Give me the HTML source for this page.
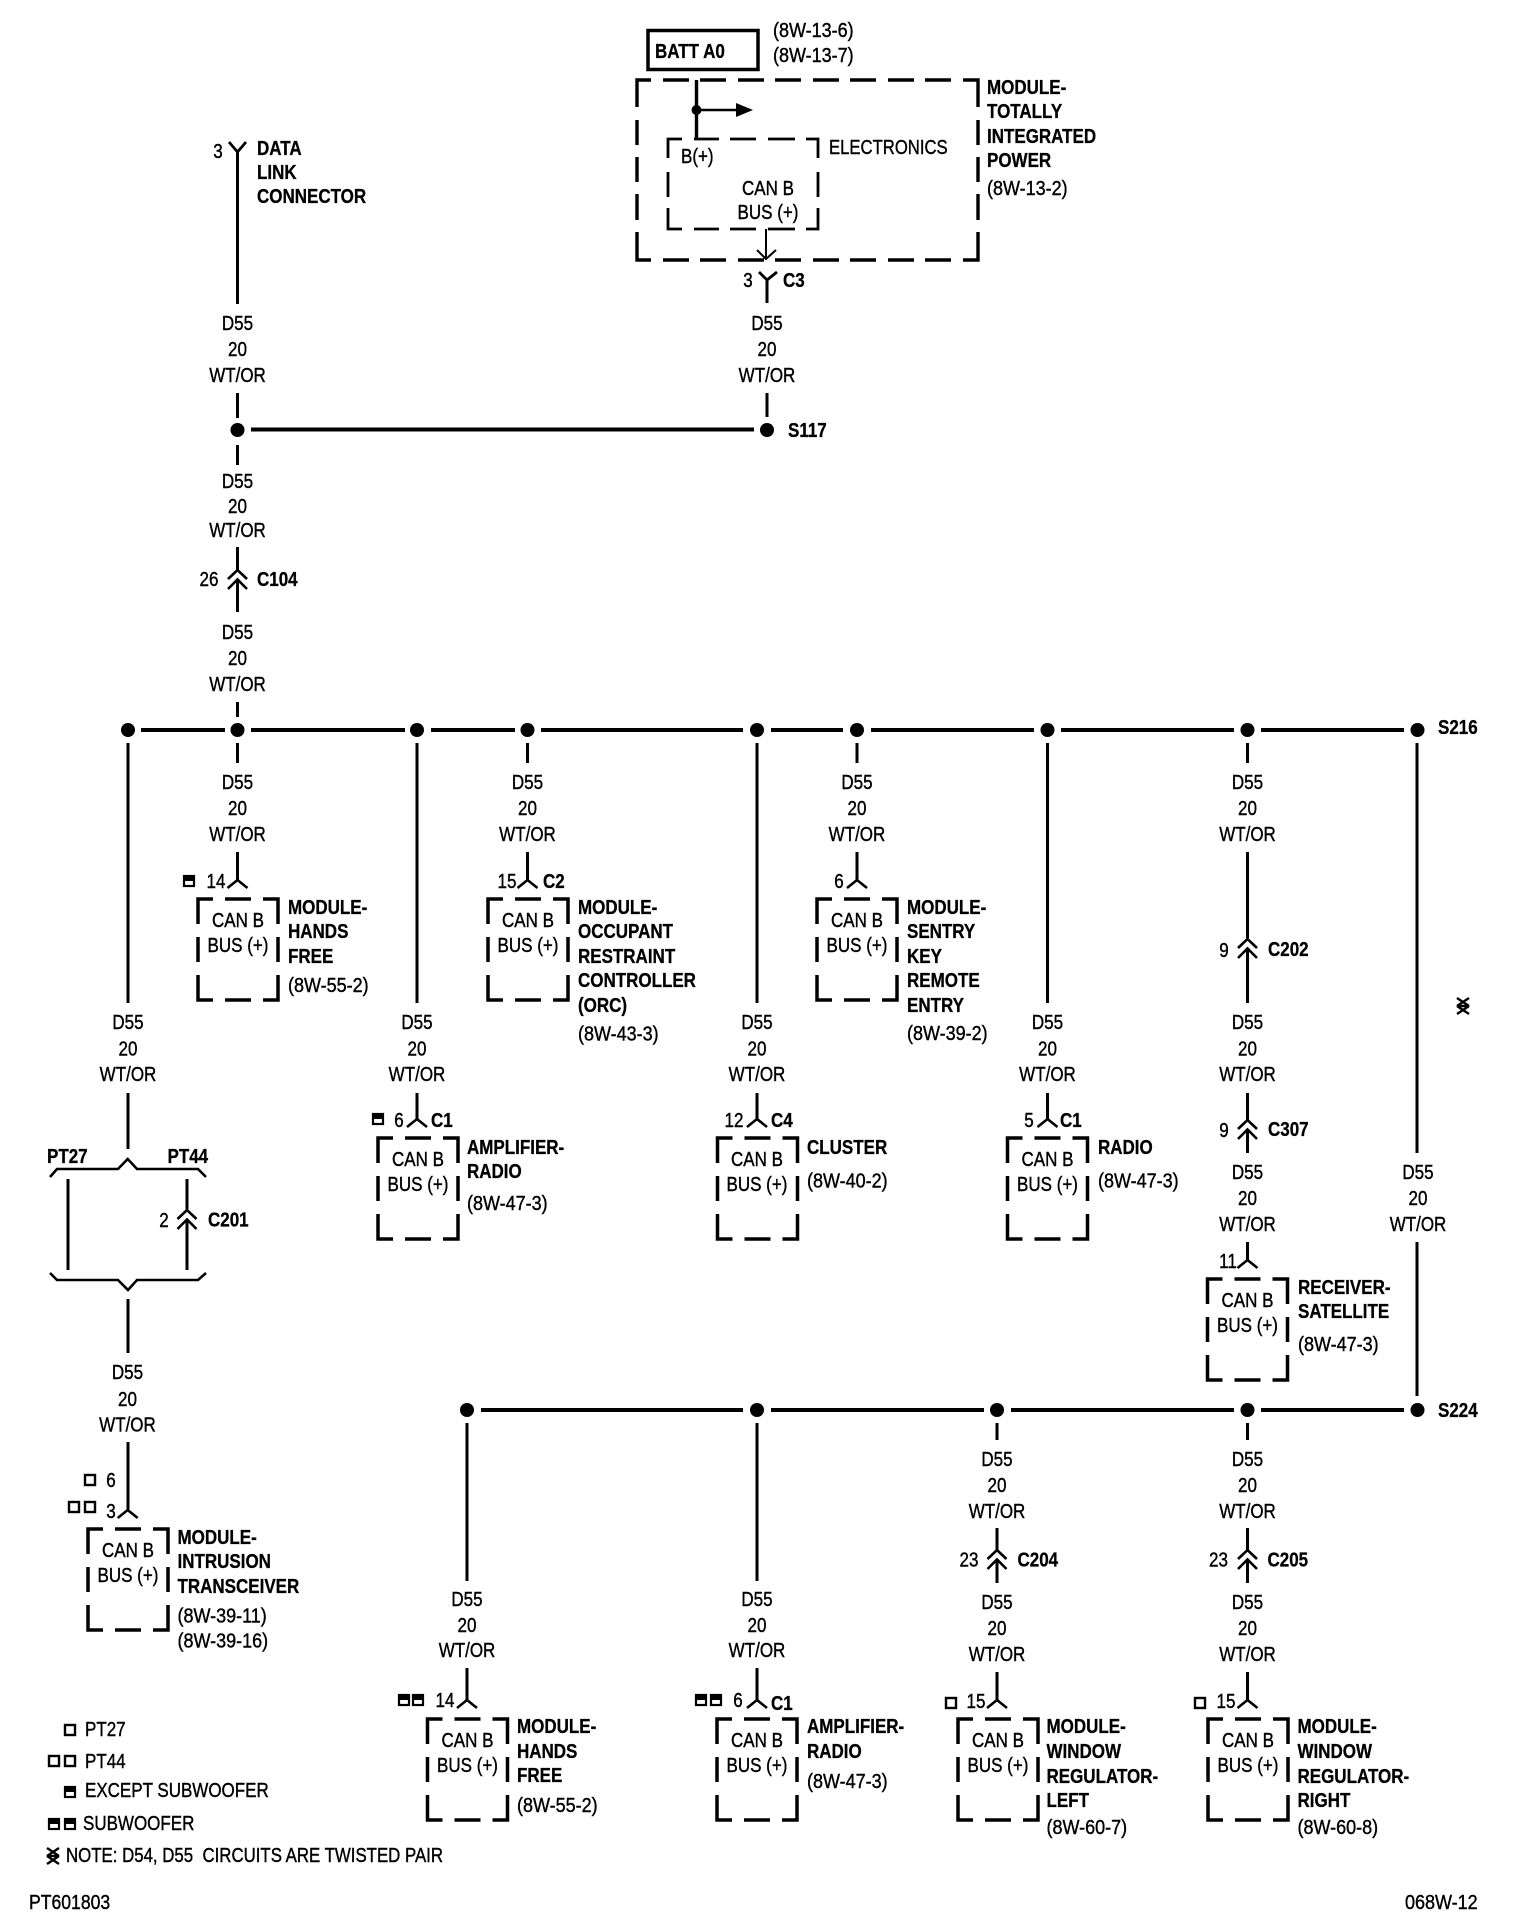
<!DOCTYPE html>
<html><head><meta charset="utf-8"><style>
html,body{margin:0;padding:0;background:#fff}
svg{display:block}
text{font-family:"Liberation Sans",sans-serif;font-size:20px;fill:#000;stroke:#000;stroke-width:.4px;transform-box:fill-box}
.m{text-anchor:middle;transform-origin:center;transform:scaleX(.85)}
.w{text-anchor:middle;transform-origin:center;transform:scaleX(.85)}
.s{transform-origin:left center;transform:scaleX(.85)}
.r{transform-origin:left center;transform:scaleX(.9)}
.b{font-weight:bold;transform-origin:left center;transform:scaleX(.85);stroke-width:.3px}
.l{fill:none;stroke:#000}
</style></head><body>
<svg width="1520" height="1928" viewBox="0 0 1520 1928" xmlns="http://www.w3.org/2000/svg">
<defs>
<path id="box" class="l" stroke-width="3.5" d="M-40 25V0H-25M-13 0H13M25 0H40V25M-40 38V63M40 38V63M-40 76V101H-25M-13 101H13M25 101H40V76"/>
<path id="fork" class="l" stroke-width="2.6" d="M-10 8L0 0L10 8"/>
<path id="chev" class="l" stroke-width="2.6" d="M-9.500 9L0 0L9.500 9M-9.500 19L0 9.500L9.500 19"/>
<g id="sq"><rect x="1" y="1" width="10" height="10" fill="#fff" stroke="#000" stroke-width="2.4"/></g>
<g id="hs"><rect x="1" y="1" width="10" height="10" fill="#fff" stroke="#000" stroke-width="2.2"/><rect x="0" y="0" width="12" height="6" fill="#000"/></g>
<path id="tw" class="l" stroke-width="2.4" d="M-6 -8L6 0M6 -8L-6 0M-6 0L6 8M6 0L-6 8M-4 0H4"/>
<circle id="d" r="7" fill="#000"/>
</defs>

<!-- BATT and TIPM -->
<rect x="648" y="30.500" width="110" height="39" fill="none" stroke="#000" stroke-width="3.500"/>
<text class="b" x="655" y="58">BATT A0</text>
<text class="r" x="773" y="37">(8W-13-6)</text>
<text class="r" x="773" y="62">(8W-13-7)</text>
<path class="l" stroke-width="3.400" d="M637 107V80H651M663 80H689M700 80H726M738 80H764M775 80H801M813 80H839M850 80H876M888 80H914M925 80H951M963 80H978V107M637 120V145M978 120V145M637 157V182M978 157V182M637 194V220M978 194V220M637 232V260H651M978 232V260H963M663 260H689M700 260H726M738 260H764M775 260H801M813 260H839M850 260H876M888 260H914M925 260H951"/>
<path class="l" stroke-width="2.800" d="M668 158V139H682M694 139H719M730 139H756M768 139H795M806 139H818V158M668 172V197M818 172V197M668 208V229H682M818 208V229H806M694 229H719M730 229H756M768 229H795"/>
<path class="l" stroke-width="3.400" d="M696.500 80V139"/>
<circle cx="696.500" cy="110" r="5" fill="#000"/>
<path class="l" stroke-width="2.500" d="M696.500 110H738"/>
<path d="M736 103L753 110L736 117Z" fill="#000"/>
<path class="l" stroke-width="2" d="M766 229V258M757 250L766 259L776 250"/>
<text class="s" x="681" y="163">B(+)</text>
<text class="s" x="829" y="154" style="transform:scaleX(.835)">ELECTRONICS</text>
<text class="m" x="768" y="195">CAN B</text>
<text class="m" x="768" y="219">BUS (+)</text>
<text class="b" x="987" y="94">MODULE-</text>
<text class="b" x="987" y="118">TOTALLY</text>
<text class="b" x="987" y="143">INTEGRATED</text>
<text class="b" x="987" y="167">POWER</text>
<text class="r" x="987" y="195">(8W-13-2)</text>
<path class="l" stroke-width="2.800" d="M759 272L767 280L777 272"/>
<text class="m" x="748" y="287">3</text>
<text class="b" x="783" y="287">C3</text>

<!-- wires -->
<path class="l" stroke-width="3" d="
M237.500 152V304M237.500 393V418M237.500 445V465M237.500 547V570M237.500 580V612M237.500 702V717M237.500 743V763M237.500 852V880
M767 280V303M767 393V417
M128 743V1003M128 1093V1149M128 1299V1353M128 1442V1510
M417 743V1003M417 1093V1119
M527.500 743V763M527.500 852V880
M757 743V1003M757 1093V1119M757 1423V1581M757 1668V1700
M857 743V763M857 852V880
M1047.500 743V1003M1047.500 1093V1119
M1247.500 743V763M1247.500 852V938M1247.500 948V1003M1247.500 1093V1120M1247.500 1130V1153M1247.500 1242V1260M1247.500 1423V1440M1247.500 1528V1550M1247.500 1560V1583M1247.500 1672V1700
M1417 743V1153M1417 1242V1396
M467 1423V1581M467 1668V1700
M997 1423V1440M997 1528V1550M997 1560V1583M997 1672V1700
M68 1179V1270M187 1179V1210M187 1219V1270"/>
<path class="l" stroke-width="4" d="M251 429.500H754M141 730H225M251 730H405M431 730H515M541 730H743M771 730H843M871 730H1034M1061 730H1234M1261 730H1404M481 1410H743M771 1410H984M1011 1410H1234M1261 1410H1404"/>

<!-- dots -->
<use href="#d" x="237.500" y="430"/><use href="#d" x="767" y="430"/>
<use href="#d" x="128" y="730"/><use href="#d" x="237.500" y="730"/><use href="#d" x="417" y="730"/><use href="#d" x="527.500" y="730"/><use href="#d" x="757" y="730"/><use href="#d" x="857" y="730"/><use href="#d" x="1047.500" y="730"/><use href="#d" x="1247.500" y="730"/><use href="#d" x="1417.500" y="730"/>
<use href="#d" x="467" y="1410"/><use href="#d" x="757" y="1410"/><use href="#d" x="997" y="1410"/><use href="#d" x="1247.500" y="1410"/><use href="#d" x="1417.500" y="1410"/>
<text class="b" x="788" y="437">S117</text>
<text class="b" x="1438" y="734">S216</text>
<text class="b" x="1438" y="1417">S224</text>

<!-- DLC -->
<path class="l" stroke-width="2.800" d="M229 142L237.500 152L246 142"/>
<text class="m" x="218" y="158">3</text>
<text class="b" x="257" y="155">DATA</text>
<text class="b" x="257" y="179">LINK</text>
<text class="b" x="257" y="203">CONNECTOR</text>

<!-- wire labels -->
<text class="w"><tspan x="237.500" y="330">D55</tspan><tspan x="237.500" y="356">20</tspan><tspan x="237.500" y="382">WT/OR</tspan></text>
<text class="w"><tspan x="767" y="330">D55</tspan><tspan x="767" y="356">20</tspan><tspan x="767" y="382">WT/OR</tspan></text>
<text class="w"><tspan x="237.500" y="488">D55</tspan><tspan x="237.500" y="513">20</tspan><tspan x="237.500" y="537">WT/OR</tspan></text>
<text class="w"><tspan x="237.500" y="639">D55</tspan><tspan x="237.500" y="665">20</tspan><tspan x="237.500" y="691">WT/OR</tspan></text>
<text class="w"><tspan x="237.500" y="789">D55</tspan><tspan x="237.500" y="815">20</tspan><tspan x="237.500" y="841">WT/OR</tspan></text>
<text class="w"><tspan x="527.500" y="789">D55</tspan><tspan x="527.500" y="815">20</tspan><tspan x="527.500" y="841">WT/OR</tspan></text>
<text class="w"><tspan x="857" y="789">D55</tspan><tspan x="857" y="815">20</tspan><tspan x="857" y="841">WT/OR</tspan></text>
<text class="w"><tspan x="1247.500" y="789">D55</tspan><tspan x="1247.500" y="815">20</tspan><tspan x="1247.500" y="841">WT/OR</tspan></text>
<text class="w"><tspan x="128" y="1029">D55</tspan><tspan x="128" y="1055.500">20</tspan><tspan x="128" y="1081">WT/OR</tspan></text>
<text class="w"><tspan x="417" y="1029">D55</tspan><tspan x="417" y="1055.500">20</tspan><tspan x="417" y="1081">WT/OR</tspan></text>
<text class="w"><tspan x="757" y="1029">D55</tspan><tspan x="757" y="1055.500">20</tspan><tspan x="757" y="1081">WT/OR</tspan></text>
<text class="w"><tspan x="1047.500" y="1029">D55</tspan><tspan x="1047.500" y="1055.500">20</tspan><tspan x="1047.500" y="1081">WT/OR</tspan></text>
<text class="w"><tspan x="1247.500" y="1029">D55</tspan><tspan x="1247.500" y="1055.500">20</tspan><tspan x="1247.500" y="1081">WT/OR</tspan></text>
<text class="w"><tspan x="1247.500" y="1179">D55</tspan><tspan x="1247.500" y="1205">20</tspan><tspan x="1247.500" y="1231">WT/OR</tspan></text>
<text class="w"><tspan x="1418" y="1179">D55</tspan><tspan x="1418" y="1205">20</tspan><tspan x="1418" y="1231">WT/OR</tspan></text>
<text class="w"><tspan x="127.500" y="1379">D55</tspan><tspan x="127.500" y="1406">20</tspan><tspan x="127.500" y="1431.500">WT/OR</tspan></text>
<text class="w"><tspan x="467" y="1606">D55</tspan><tspan x="467" y="1632">20</tspan><tspan x="467" y="1657">WT/OR</tspan></text>
<text class="w"><tspan x="757" y="1606">D55</tspan><tspan x="757" y="1632">20</tspan><tspan x="757" y="1657">WT/OR</tspan></text>
<text class="w"><tspan x="997" y="1466">D55</tspan><tspan x="997" y="1492">20</tspan><tspan x="997" y="1518">WT/OR</tspan></text>
<text class="w"><tspan x="1247.500" y="1466">D55</tspan><tspan x="1247.500" y="1492">20</tspan><tspan x="1247.500" y="1518">WT/OR</tspan></text>
<text class="w"><tspan x="997" y="1609">D55</tspan><tspan x="997" y="1635">20</tspan><tspan x="997" y="1661">WT/OR</tspan></text>
<text class="w"><tspan x="1247.500" y="1609">D55</tspan><tspan x="1247.500" y="1635">20</tspan><tspan x="1247.500" y="1661">WT/OR</tspan></text>

<!-- inline connectors -->
<use href="#chev" x="237.500" y="570"/><text class="m" x="209" y="586">26</text><text class="b" x="257" y="586">C104</text>
<use href="#chev" x="1247.500" y="939"/><text class="m" x="1224" y="957">9</text><text class="b" x="1268" y="956">C202</text>
<use href="#chev" x="1247.500" y="1120"/><text class="m" x="1224" y="1137">9</text><text class="b" x="1268" y="1136">C307</text>
<use href="#chev" x="187" y="1210"/><text class="m" x="164" y="1227">2</text><text class="b" x="208" y="1226.500">C201</text>
<use href="#chev" x="997" y="1550"/><text class="m" x="969" y="1566.500">23</text><text class="b" x="1017.500" y="1566.500">C204</text>
<use href="#chev" x="1247.500" y="1550"/><text class="m" x="1218.500" y="1566.500">23</text><text class="b" x="1267.500" y="1566.500">C205</text>

<!-- PT braces -->
<path class="l" stroke-width="2.600" d="M50 1177L57 1169H118L127.700 1159L137 1169H198L206 1177"/>
<path class="l" stroke-width="2.600" d="M50 1273L57 1280H118L128 1290L137 1280H198L206 1273"/>
<text class="b" x="47" y="1163">PT27</text>
<text class="b" x="167.500" y="1163">PT44</text>

<!-- modules row 1 -->
<use href="#fork" x="237.500" y="880"/><use href="#box" x="238" y="899"/>
<use href="#hs" x="183" y="875"/><text class="m" x="216" y="888">14</text>
<text class="m" x="238" y="927">CAN B</text><text class="m" x="238" y="952">BUS (+)</text>
<text class="b" x="288" y="914">MODULE-</text><text class="b" x="288" y="938">HANDS</text><text class="b" x="288" y="963">FREE</text><text class="r" x="288" y="992">(8W-55-2)</text>

<use href="#fork" x="527.500" y="880"/><use href="#box" x="528" y="899"/>
<text class="m" x="507" y="888">15</text><text class="b" x="543" y="888">C2</text>
<text class="m" x="528" y="927">CAN B</text><text class="m" x="528" y="952">BUS (+)</text>
<text class="b" x="578" y="914">MODULE-</text><text class="b" x="578" y="938">OCCUPANT</text><text class="b" x="578" y="963">RESTRAINT</text><text class="b" x="578" y="987">CONTROLLER</text><text class="b" x="578" y="1012">(ORC)</text><text class="r" x="578" y="1040.500">(8W-43-3)</text>

<use href="#fork" x="857" y="880"/><use href="#box" x="857" y="899"/>
<text class="m" x="839" y="888">6</text>
<text class="m" x="857" y="927">CAN B</text><text class="m" x="857" y="952">BUS (+)</text>
<text class="b" x="907" y="914">MODULE-</text><text class="b" x="907" y="938">SENTRY</text><text class="b" x="907" y="963">KEY</text><text class="b" x="907" y="987">REMOTE</text><text class="b" x="907" y="1012">ENTRY</text><text class="r" x="907" y="1040">(8W-39-2)</text>

<!-- modules row 2 -->
<use href="#fork" x="417" y="1119"/><use href="#box" x="418" y="1138"/>
<use href="#hs" x="372" y="1113"/><text class="m" x="399" y="1127">6</text><text class="b" x="431" y="1127">C1</text>
<text class="m" x="418" y="1166">CAN B</text><text class="m" x="418" y="1191">BUS (+)</text>
<text class="b" x="467" y="1154">AMPLIFIER-</text><text class="b" x="467" y="1178">RADIO</text><text class="r" x="467" y="1210">(8W-47-3)</text>

<use href="#fork" x="757" y="1119"/><use href="#box" x="757.500" y="1138"/>
<text class="m" x="734" y="1127">12</text><text class="b" x="771" y="1127">C4</text>
<text class="m" x="757" y="1166">CAN B</text><text class="m" x="757" y="1191">BUS (+)</text>
<text class="b" x="807" y="1154">CLUSTER</text><text class="r" x="807" y="1187.500">(8W-40-2)</text>

<use href="#fork" x="1047.500" y="1119"/><use href="#box" x="1047.500" y="1138"/>
<text class="m" x="1029" y="1127">5</text><text class="b" x="1060" y="1127">C1</text>
<text class="m" x="1047.500" y="1166">CAN B</text><text class="m" x="1047.500" y="1191">BUS (+)</text>
<text class="b" x="1098" y="1154">RADIO</text><text class="r" x="1098" y="1187.500">(8W-47-3)</text>

<use href="#fork" x="1247.500" y="1260"/><use href="#box" x="1247.500" y="1279"/>
<text class="m" x="1228" y="1268">11</text>
<text class="m" x="1247.500" y="1307">CAN B</text><text class="m" x="1247.500" y="1332">BUS (+)</text>
<text class="b" x="1298" y="1294">RECEIVER-</text><text class="b" x="1298" y="1318">SATELLITE</text><text class="r" x="1298" y="1351">(8W-47-3)</text>

<use href="#tw" x="1463" y="1006"/>

<!-- intrusion -->
<use href="#fork" x="127.700" y="1510"/><use href="#box" x="128" y="1529"/>
<use href="#sq" x="84" y="1474"/><text class="m" x="111" y="1487">6</text>
<use href="#sq" x="68" y="1501"/><use href="#sq" x="84" y="1501"/><text class="m" x="111" y="1518">3</text>
<text class="m" x="128" y="1557">CAN B</text><text class="m" x="128" y="1582">BUS (+)</text>
<text class="b" x="177.500" y="1544">MODULE-</text><text class="b" x="177.500" y="1568">INTRUSION</text><text class="b" x="177.500" y="1593">TRANSCEIVER</text><text class="r" x="177.500" y="1622.500">(8W-39-11)</text><text class="r" x="177.500" y="1647.500">(8W-39-16)</text>

<!-- bottom row -->
<use href="#fork" x="467" y="1700"/><use href="#box" x="467.500" y="1719"/>
<use href="#hs" x="398" y="1694"/><use href="#hs" x="412" y="1694"/><text class="m" x="445" y="1707">14</text>
<text class="m" x="467.500" y="1747">CAN B</text><text class="m" x="467.500" y="1772">BUS (+)</text>
<text class="b" x="517" y="1733">MODULE-</text><text class="b" x="517" y="1758">HANDS</text><text class="b" x="517" y="1782">FREE</text><text class="r" x="517" y="1812">(8W-55-2)</text>

<use href="#fork" x="757" y="1700"/><use href="#box" x="757" y="1719"/>
<use href="#hs" x="695" y="1694"/><use href="#hs" x="710" y="1694"/><text class="m" x="738" y="1707">6</text><text class="b" x="771" y="1710">C1</text>
<text class="m" x="757" y="1747">CAN B</text><text class="m" x="757" y="1772">BUS (+)</text>
<text class="b" x="807" y="1733">AMPLIFIER-</text><text class="b" x="807" y="1758">RADIO</text><text class="r" x="807" y="1788">(8W-47-3)</text>

<use href="#fork" x="997" y="1700"/><use href="#box" x="998" y="1719"/>
<use href="#sq" x="945" y="1697"/><text class="m" x="976" y="1708">15</text>
<text class="m" x="998" y="1747">CAN B</text><text class="m" x="998" y="1772">BUS (+)</text>
<text class="b" x="1046.500" y="1733">MODULE-</text><text class="b" x="1046.500" y="1758">WINDOW</text><text class="b" x="1046.500" y="1783">REGULATOR-</text><text class="b" x="1046.500" y="1807">LEFT</text><text class="r" x="1046.500" y="1834">(8W-60-7)</text>

<use href="#fork" x="1247.500" y="1700"/><use href="#box" x="1248" y="1719"/>
<use href="#sq" x="1194" y="1697"/><text class="m" x="1226" y="1708">15</text>
<text class="m" x="1248" y="1747">CAN B</text><text class="m" x="1248" y="1772">BUS (+)</text>
<text class="b" x="1297.500" y="1733">MODULE-</text><text class="b" x="1297.500" y="1758">WINDOW</text><text class="b" x="1297.500" y="1783">REGULATOR-</text><text class="b" x="1297.500" y="1807">RIGHT</text><text class="r" x="1297.500" y="1834">(8W-60-8)</text>

<!-- legend -->
<use href="#sq" x="64" y="1724"/><text class="s" x="85" y="1736">PT27</text>
<use href="#sq" x="48" y="1755"/><use href="#sq" x="64" y="1755"/><text class="s" x="85" y="1768">PT44</text>
<use href="#hs" x="64" y="1786"/><text class="s" x="85" y="1797">EXCEPT SUBWOOFER</text>
<use href="#hs" x="48" y="1818"/><use href="#hs" x="64" y="1818"/><text class="s" x="83" y="1830">SUBWOOFER</text>
<use href="#tw" x="53" y="1856"/><text x="66" y="1862" textLength="377" lengthAdjust="spacingAndGlyphs">NOTE: D54, D55&#160;&#160;CIRCUITS ARE TWISTED PAIR</text>
<text class="s" x="29" y="1909" style="transform:scaleX(.88)">PT601803</text>
<text class="s" x="1405" y="1909" style="transform:scaleX(.9)">068W-12</text>
</svg>
</body></html>
